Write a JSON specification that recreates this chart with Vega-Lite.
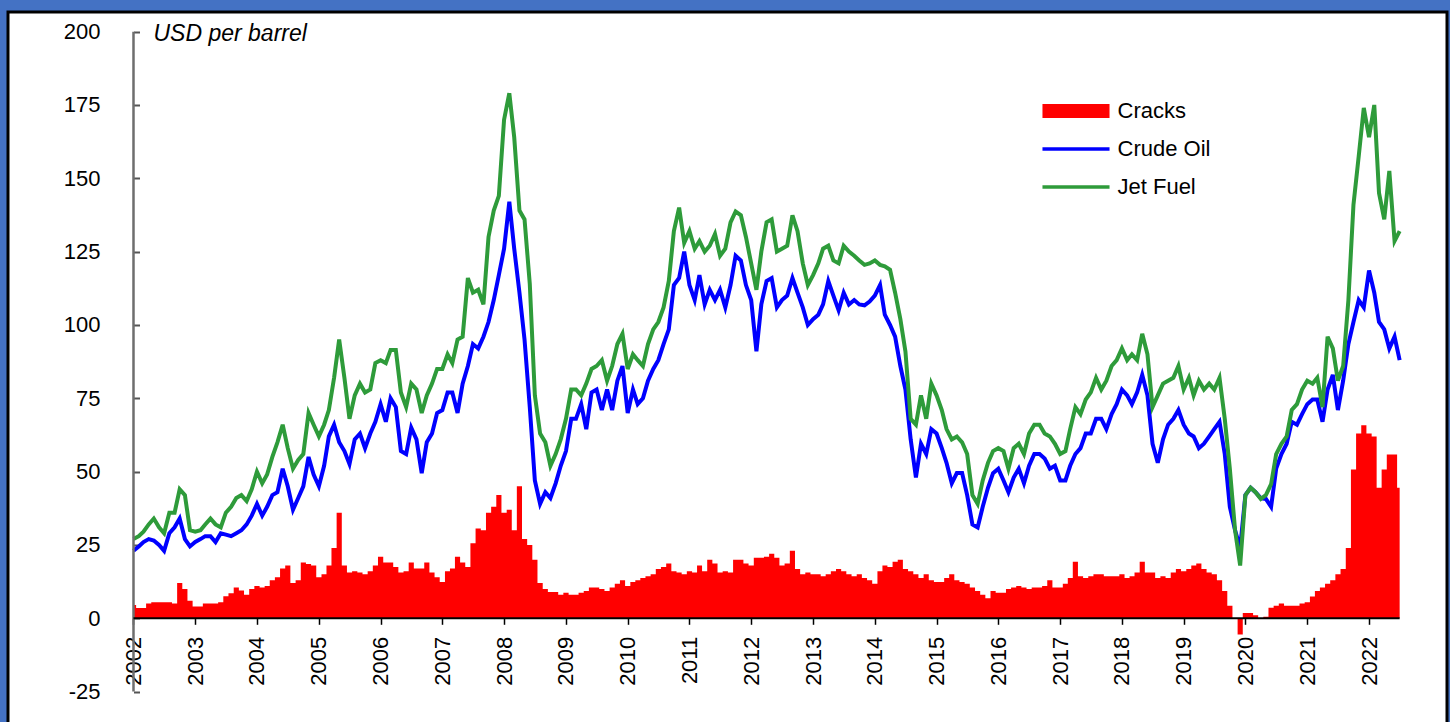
{
  "$schema": "https://vega.github.io/schema/vega-lite/v6.json",
  "width": 1439,
  "height": 712,
  "autosize": "none",
  "padding": {"left": 8, "top": 12, "right": 3, "bottom": 0},
  "background": "#4472C4",
  "config": {
    "view": {"stroke": "#000000", "strokeWidth": 3, "fill": "#ffffff"},
    "font": "Liberation Sans",
    "axis": {"grid": false}
  },
  "data": {"values": [
    {"date":"2002-01-01","crude":23,"jet":27,"cracks":4.5},
    {"date":"2002-02-01","crude":24.5,"jet":28,"cracks":3.5},
    {"date":"2002-03-01","crude":26,"jet":29.5,"cracks":3.5},
    {"date":"2002-04-01","crude":27,"jet":32,"cracks":5},
    {"date":"2002-05-01","crude":26.5,"jet":34,"cracks":5.5},
    {"date":"2002-06-01","crude":25,"jet":31,"cracks":5.5},
    {"date":"2002-07-01","crude":23,"jet":29,"cracks":5.5},
    {"date":"2002-08-01","crude":29,"jet":36,"cracks":5.5},
    {"date":"2002-09-01","crude":31,"jet":36,"cracks":5},
    {"date":"2002-10-01","crude":34,"jet":44,"cracks":12},
    {"date":"2002-11-01","crude":27,"jet":42,"cracks":10},
    {"date":"2002-12-01","crude":24.5,"jet":30,"cracks":6},
    {"date":"2003-01-01","crude":26,"jet":29.5,"cracks":4},
    {"date":"2003-02-01","crude":27,"jet":30,"cracks":4},
    {"date":"2003-03-01","crude":28,"jet":32,"cracks":5},
    {"date":"2003-04-01","crude":28,"jet":34,"cracks":5},
    {"date":"2003-05-01","crude":26,"jet":32,"cracks":5},
    {"date":"2003-06-01","crude":29,"jet":31,"cracks":5.5},
    {"date":"2003-07-01","crude":28.5,"jet":36,"cracks":7.5},
    {"date":"2003-08-01","crude":28,"jet":38,"cracks":8.5},
    {"date":"2003-09-01","crude":29,"jet":41,"cracks":10.5},
    {"date":"2003-10-01","crude":30,"jet":42,"cracks":9.5},
    {"date":"2003-11-01","crude":32,"jet":40,"cracks":8},
    {"date":"2003-12-01","crude":35,"jet":44,"cracks":10},
    {"date":"2004-01-01","crude":39,"jet":50,"cracks":11},
    {"date":"2004-02-01","crude":35,"jet":46,"cracks":10.5},
    {"date":"2004-03-01","crude":38,"jet":49,"cracks":11},
    {"date":"2004-04-01","crude":42,"jet":55,"cracks":13},
    {"date":"2004-05-01","crude":43,"jet":60,"cracks":14},
    {"date":"2004-06-01","crude":51,"jet":66,"cracks":17},
    {"date":"2004-07-01","crude":45,"jet":58,"cracks":18},
    {"date":"2004-08-01","crude":37,"jet":51,"cracks":12},
    {"date":"2004-09-01","crude":41,"jet":54,"cracks":13},
    {"date":"2004-10-01","crude":45,"jet":56,"cracks":19},
    {"date":"2004-11-01","crude":55,"jet":70,"cracks":18.5},
    {"date":"2004-12-01","crude":49,"jet":66,"cracks":18},
    {"date":"2005-01-01","crude":45,"jet":62,"cracks":14},
    {"date":"2005-02-01","crude":52,"jet":66,"cracks":15},
    {"date":"2005-03-01","crude":62,"jet":71,"cracks":18},
    {"date":"2005-04-01","crude":66,"jet":82,"cracks":24},
    {"date":"2005-05-01","crude":60,"jet":95,"cracks":36},
    {"date":"2005-06-01","crude":57,"jet":82,"cracks":18},
    {"date":"2005-07-01","crude":52.6,"jet":68,"cracks":15.6},
    {"date":"2005-08-01","crude":61,"jet":76,"cracks":16},
    {"date":"2005-09-01","crude":63,"jet":80,"cracks":15.6},
    {"date":"2005-10-01","crude":58,"jet":77,"cracks":15},
    {"date":"2005-11-01","crude":63,"jet":78,"cracks":16},
    {"date":"2005-12-01","crude":67,"jet":87,"cracks":18},
    {"date":"2006-01-01","crude":73,"jet":88,"cracks":21},
    {"date":"2006-02-01","crude":67,"jet":87,"cracks":19},
    {"date":"2006-03-01","crude":75,"jet":91.5,"cracks":19},
    {"date":"2006-04-01","crude":72,"jet":91.5,"cracks":17.5},
    {"date":"2006-05-01","crude":57,"jet":77,"cracks":15.6},
    {"date":"2006-06-01","crude":56,"jet":72,"cracks":16},
    {"date":"2006-07-01","crude":65,"jet":80,"cracks":19},
    {"date":"2006-08-01","crude":61,"jet":78,"cracks":17},
    {"date":"2006-09-01","crude":49.5,"jet":70,"cracks":17},
    {"date":"2006-10-01","crude":60,"jet":76,"cracks":19},
    {"date":"2006-11-01","crude":63,"jet":80,"cracks":15.6},
    {"date":"2006-12-01","crude":70,"jet":85,"cracks":14},
    {"date":"2007-01-01","crude":71,"jet":85,"cracks":12.4},
    {"date":"2007-02-01","crude":77,"jet":90,"cracks":16},
    {"date":"2007-03-01","crude":77,"jet":87,"cracks":17},
    {"date":"2007-04-01","crude":70,"jet":95,"cracks":21},
    {"date":"2007-05-01","crude":80,"jet":96,"cracks":19},
    {"date":"2007-06-01","crude":86,"jet":116,"cracks":17.5},
    {"date":"2007-07-01","crude":93.5,"jet":111,"cracks":25.6},
    {"date":"2007-08-01","crude":92,"jet":112,"cracks":30.6},
    {"date":"2007-09-01","crude":96,"jet":107,"cracks":30},
    {"date":"2007-10-01","crude":101,"jet":130,"cracks":36},
    {"date":"2007-11-01","crude":108.5,"jet":139,"cracks":38},
    {"date":"2007-12-01","crude":117,"jet":144,"cracks":42},
    {"date":"2008-01-01","crude":126,"jet":170,"cracks":36},
    {"date":"2008-02-01","crude":142,"jet":179,"cracks":37},
    {"date":"2008-03-01","crude":126,"jet":164,"cracks":30},
    {"date":"2008-04-01","crude":111,"jet":139,"cracks":45},
    {"date":"2008-05-01","crude":95,"jet":136,"cracks":27},
    {"date":"2008-06-01","crude":72,"jet":114,"cracks":25},
    {"date":"2008-07-01","crude":47,"jet":76,"cracks":20},
    {"date":"2008-08-01","crude":39,"jet":63,"cracks":12},
    {"date":"2008-09-01","crude":43,"jet":60,"cracks":10},
    {"date":"2008-10-01","crude":41,"jet":52,"cracks":9},
    {"date":"2008-11-01","crude":46,"jet":56,"cracks":9},
    {"date":"2008-12-01","crude":52,"jet":61,"cracks":8},
    {"date":"2009-01-01","crude":57,"jet":68,"cracks":8.7},
    {"date":"2009-02-01","crude":68,"jet":78,"cracks":8},
    {"date":"2009-03-01","crude":68,"jet":78,"cracks":8},
    {"date":"2009-04-01","crude":73,"jet":76,"cracks":8.7},
    {"date":"2009-05-01","crude":64.5,"jet":80,"cracks":9.3},
    {"date":"2009-06-01","crude":77,"jet":85,"cracks":10.5},
    {"date":"2009-07-01","crude":78,"jet":86,"cracks":10.5},
    {"date":"2009-08-01","crude":71,"jet":88,"cracks":10},
    {"date":"2009-09-01","crude":78,"jet":81,"cracks":9.3},
    {"date":"2009-10-01","crude":71,"jet":86,"cracks":10.5},
    {"date":"2009-11-01","crude":81,"jet":93.5,"cracks":11.8},
    {"date":"2009-12-01","crude":86,"jet":97,"cracks":13},
    {"date":"2010-01-01","crude":70,"jet":85,"cracks":11},
    {"date":"2010-02-01","crude":78,"jet":90,"cracks":12.4},
    {"date":"2010-03-01","crude":73,"jet":88,"cracks":13},
    {"date":"2010-04-01","crude":75,"jet":86,"cracks":13.7},
    {"date":"2010-05-01","crude":81,"jet":93.5,"cracks":14.3},
    {"date":"2010-06-01","crude":85,"jet":98.5,"cracks":15},
    {"date":"2010-07-01","crude":88,"jet":101,"cracks":16.8},
    {"date":"2010-08-01","crude":93.5,"jet":106,"cracks":17.5},
    {"date":"2010-09-01","crude":98.5,"jet":115,"cracks":18.7},
    {"date":"2010-10-01","crude":113.6,"jet":132,"cracks":16},
    {"date":"2010-11-01","crude":116,"jet":140,"cracks":15.6},
    {"date":"2010-12-01","crude":125,"jet":128,"cracks":15},
    {"date":"2011-01-01","crude":113.6,"jet":132,"cracks":16},
    {"date":"2011-02-01","crude":108.5,"jet":126,"cracks":15.6},
    {"date":"2011-03-01","crude":117,"jet":128.6,"cracks":18},
    {"date":"2011-04-01","crude":107,"jet":125,"cracks":16},
    {"date":"2011-05-01","crude":112,"jet":127,"cracks":20},
    {"date":"2011-06-01","crude":108.5,"jet":131,"cracks":18.7},
    {"date":"2011-07-01","crude":112,"jet":123.6,"cracks":15.6},
    {"date":"2011-08-01","crude":106,"jet":126,"cracks":16},
    {"date":"2011-09-01","crude":113.6,"jet":135,"cracks":15.6},
    {"date":"2011-10-01","crude":123.6,"jet":138.7,"cracks":20},
    {"date":"2011-11-01","crude":122,"jet":137.4,"cracks":20},
    {"date":"2011-12-01","crude":113.6,"jet":130,"cracks":18.7},
    {"date":"2012-01-01","crude":108.5,"jet":121,"cracks":18},
    {"date":"2012-02-01","crude":91,"jet":112,"cracks":20.6},
    {"date":"2012-03-01","crude":107,"jet":125,"cracks":20.6},
    {"date":"2012-04-01","crude":115,"jet":135,"cracks":21},
    {"date":"2012-05-01","crude":116,"jet":136,"cracks":22},
    {"date":"2012-06-01","crude":106,"jet":125,"cracks":20.6},
    {"date":"2012-07-01","crude":108.5,"jet":126,"cracks":18},
    {"date":"2012-08-01","crude":110,"jet":127,"cracks":18.7},
    {"date":"2012-09-01","crude":116,"jet":137.4,"cracks":23},
    {"date":"2012-10-01","crude":111,"jet":132,"cracks":16.8},
    {"date":"2012-11-01","crude":106,"jet":121,"cracks":15},
    {"date":"2012-12-01","crude":100,"jet":113.6,"cracks":15.6},
    {"date":"2013-01-01","crude":102,"jet":117,"cracks":15},
    {"date":"2013-02-01","crude":103.5,"jet":121,"cracks":15},
    {"date":"2013-03-01","crude":107,"jet":126,"cracks":14.3},
    {"date":"2013-04-01","crude":115,"jet":127,"cracks":15},
    {"date":"2013-05-01","crude":110,"jet":122,"cracks":16},
    {"date":"2013-06-01","crude":105,"jet":121,"cracks":16.8},
    {"date":"2013-07-01","crude":111,"jet":127,"cracks":16},
    {"date":"2013-08-01","crude":107,"jet":125,"cracks":15},
    {"date":"2013-09-01","crude":108.5,"jet":123.6,"cracks":14.3},
    {"date":"2013-10-01","crude":107,"jet":122,"cracks":15},
    {"date":"2013-11-01","crude":106.7,"jet":120.5,"cracks":13.7},
    {"date":"2013-12-01","crude":108,"jet":121,"cracks":13},
    {"date":"2014-01-01","crude":110,"jet":122,"cracks":11.8},
    {"date":"2014-02-01","crude":113.6,"jet":120.5,"cracks":16},
    {"date":"2014-03-01","crude":103.5,"jet":120,"cracks":18},
    {"date":"2014-04-01","crude":100,"jet":118.8,"cracks":17.5},
    {"date":"2014-05-01","crude":96,"jet":111,"cracks":19.3},
    {"date":"2014-06-01","crude":86,"jet":102,"cracks":20},
    {"date":"2014-07-01","crude":78,"jet":91,"cracks":16.8},
    {"date":"2014-08-01","crude":61,"jet":68,"cracks":16},
    {"date":"2014-09-01","crude":48,"jet":66,"cracks":15},
    {"date":"2014-10-01","crude":59.5,"jet":76,"cracks":13.7},
    {"date":"2014-11-01","crude":56,"jet":68,"cracks":15},
    {"date":"2014-12-01","crude":64.5,"jet":80,"cracks":13},
    {"date":"2015-01-01","crude":63,"jet":76,"cracks":12.4},
    {"date":"2015-02-01","crude":58,"jet":71,"cracks":12.4},
    {"date":"2015-03-01","crude":53,"jet":64.5,"cracks":13.7},
    {"date":"2015-04-01","crude":46,"jet":61,"cracks":15},
    {"date":"2015-05-01","crude":49.5,"jet":62,"cracks":13},
    {"date":"2015-06-01","crude":49.5,"jet":60,"cracks":12.4},
    {"date":"2015-07-01","crude":42,"jet":56,"cracks":11.8},
    {"date":"2015-08-01","crude":32,"jet":42,"cracks":10.5},
    {"date":"2015-09-01","crude":31,"jet":39,"cracks":9.3},
    {"date":"2015-10-01","crude":38,"jet":47,"cracks":8},
    {"date":"2015-11-01","crude":44.5,"jet":53,"cracks":6.8},
    {"date":"2015-12-01","crude":49.5,"jet":57,"cracks":9.3},
    {"date":"2016-01-01","crude":51,"jet":58,"cracks":8.7},
    {"date":"2016-02-01","crude":47,"jet":57,"cracks":8.7},
    {"date":"2016-03-01","crude":43,"jet":51,"cracks":10},
    {"date":"2016-04-01","crude":48,"jet":58,"cracks":10.5},
    {"date":"2016-05-01","crude":51,"jet":59.5,"cracks":11},
    {"date":"2016-06-01","crude":46,"jet":56,"cracks":10.5},
    {"date":"2016-07-01","crude":52,"jet":63,"cracks":10},
    {"date":"2016-08-01","crude":56,"jet":66,"cracks":10.5},
    {"date":"2016-09-01","crude":56,"jet":66,"cracks":10.5},
    {"date":"2016-10-01","crude":54.5,"jet":63,"cracks":11},
    {"date":"2016-11-01","crude":51,"jet":62,"cracks":13},
    {"date":"2016-12-01","crude":52,"jet":59.5,"cracks":10.5},
    {"date":"2017-01-01","crude":47,"jet":56,"cracks":10.5},
    {"date":"2017-02-01","crude":47,"jet":57,"cracks":11.8},
    {"date":"2017-03-01","crude":52,"jet":64.5,"cracks":13.7},
    {"date":"2017-04-01","crude":56,"jet":72,"cracks":19.3},
    {"date":"2017-05-01","crude":58,"jet":69.6,"cracks":14.3},
    {"date":"2017-06-01","crude":63,"jet":74.6,"cracks":13.7},
    {"date":"2017-07-01","crude":63,"jet":77,"cracks":14.3},
    {"date":"2017-08-01","crude":68,"jet":82,"cracks":15},
    {"date":"2017-09-01","crude":68,"jet":78,"cracks":15},
    {"date":"2017-10-01","crude":64.5,"jet":81,"cracks":14.3},
    {"date":"2017-11-01","crude":69.6,"jet":86,"cracks":14.3},
    {"date":"2017-12-01","crude":73,"jet":88,"cracks":14.3},
    {"date":"2018-01-01","crude":78,"jet":92,"cracks":15},
    {"date":"2018-02-01","crude":76,"jet":88,"cracks":13.7},
    {"date":"2018-03-01","crude":73,"jet":90,"cracks":14.3},
    {"date":"2018-04-01","crude":77,"jet":88,"cracks":15.6},
    {"date":"2018-05-01","crude":83,"jet":97,"cracks":19.3},
    {"date":"2018-06-01","crude":76,"jet":90,"cracks":15.6},
    {"date":"2018-07-01","crude":59.5,"jet":72,"cracks":15.6},
    {"date":"2018-08-01","crude":53,"jet":76,"cracks":13.7},
    {"date":"2018-09-01","crude":61,"jet":80,"cracks":14.3},
    {"date":"2018-10-01","crude":66,"jet":81,"cracks":13.7},
    {"date":"2018-11-01","crude":68,"jet":82,"cracks":15.6},
    {"date":"2018-12-01","crude":71,"jet":86,"cracks":16.8},
    {"date":"2019-01-01","crude":66,"jet":78,"cracks":16},
    {"date":"2019-02-01","crude":63,"jet":82,"cracks":16.8},
    {"date":"2019-03-01","crude":62,"jet":76,"cracks":18},
    {"date":"2019-04-01","crude":58,"jet":81,"cracks":18.7},
    {"date":"2019-05-01","crude":59.5,"jet":78,"cracks":16.8},
    {"date":"2019-06-01","crude":62,"jet":80,"cracks":15.6},
    {"date":"2019-07-01","crude":64.5,"jet":78,"cracks":15},
    {"date":"2019-08-01","crude":67,"jet":82,"cracks":13},
    {"date":"2019-09-01","crude":56,"jet":68,"cracks":9.3},
    {"date":"2019-10-01","crude":38,"jet":51,"cracks":4.3},
    {"date":"2019-11-01","crude":30,"jet":30,"cracks":0},
    {"date":"2019-12-01","crude":24,"jet":18,"cracks":-5.5},
    {"date":"2020-01-01","crude":42,"jet":42,"cracks":1.8},
    {"date":"2020-02-01","crude":44.5,"jet":44.5,"cracks":1.8},
    {"date":"2020-03-01","crude":43,"jet":43,"cracks":1},
    {"date":"2020-04-01","crude":41,"jet":40.7,"cracks":0},
    {"date":"2020-05-01","crude":40.7,"jet":42,"cracks":0.5},
    {"date":"2020-06-01","crude":38,"jet":45.7,"cracks":3.6},
    {"date":"2020-07-01","crude":51,"jet":56,"cracks":4.3},
    {"date":"2020-08-01","crude":56,"jet":59.5,"cracks":5},
    {"date":"2020-09-01","crude":59.5,"jet":62,"cracks":4.3},
    {"date":"2020-10-01","crude":67,"jet":71,"cracks":4.3},
    {"date":"2020-11-01","crude":66,"jet":73,"cracks":4.3},
    {"date":"2020-12-01","crude":69.6,"jet":78,"cracks":5},
    {"date":"2021-01-01","crude":73,"jet":81,"cracks":5.5},
    {"date":"2021-02-01","crude":74.6,"jet":80,"cracks":7.4},
    {"date":"2021-03-01","crude":74.6,"jet":82,"cracks":9.3},
    {"date":"2021-04-01","crude":67,"jet":72,"cracks":10.5},
    {"date":"2021-05-01","crude":78,"jet":96,"cracks":11.8},
    {"date":"2021-06-01","crude":83,"jet":92,"cracks":13},
    {"date":"2021-07-01","crude":71,"jet":81,"cracks":15},
    {"date":"2021-08-01","crude":81,"jet":86,"cracks":16.8},
    {"date":"2021-09-01","crude":93.5,"jet":108.5,"cracks":24},
    {"date":"2021-10-01","crude":101,"jet":141,"cracks":50.7},
    {"date":"2021-11-01","crude":108.5,"jet":157.5,"cracks":63},
    {"date":"2021-12-01","crude":106,"jet":174,"cracks":65.8},
    {"date":"2022-01-01","crude":118.6,"jet":164,"cracks":63},
    {"date":"2022-02-01","crude":111,"jet":175,"cracks":62},
    {"date":"2022-03-01","crude":101,"jet":145,"cracks":44.5},
    {"date":"2022-04-01","crude":98.5,"jet":136,"cracks":50.7},
    {"date":"2022-05-01","crude":92,"jet":152.5,"cracks":55.8},
    {"date":"2022-06-01","crude":96,"jet":128.6,"cracks":55.8},
    {"date":"2022-07-01","crude":88,"jet":132,"cracks":44.5}
  ]},
  "transform": [{"fold": ["cracks", "crude", "jet"], "as": ["series", "value"]}],
  "layer": [
    {
      "transform": [{"filter": "datum.series === 'cracks'"}],
      "mark": {"type": "area", "interpolate": "step", "opacity": 1},
      "encoding": {
        "x": {
          "field": "date", "type": "temporal",
          "scale": {"type": "utc", "domain": [{"year": 1999, "month": 12, "date": 21, "utc": true}, {"year": 2023, "month": 4, "date": 7, "utc": true}]},
          "axis": {
            "orient": "bottom", "offset": -105.7, "title": null, "domain": false,
            "values": [{"year":2002,"utc":true},{"year":2003,"utc":true},{"year":2004,"utc":true},{"year":2005,"utc":true},{"year":2006,"utc":true},{"year":2007,"utc":true},{"year":2008,"utc":true},{"year":2009,"utc":true},{"year":2010,"utc":true},{"year":2011,"utc":true},{"year":2012,"utc":true},{"year":2013,"utc":true},{"year":2014,"utc":true},{"year":2015,"utc":true},{"year":2016,"utc":true},{"year":2017,"utc":true},{"year":2018,"utc":true},{"year":2019,"utc":true},{"year":2020,"utc":true},{"year":2021,"utc":true},{"year":2022,"utc":true}],
            "format": "%Y", "labelAngle": -90, "labelAlign": "right", "labelBaseline": "middle",
            "labelFontSize": 22, "labelColor": "#000000", "labelPadding": 12, "labelFlush": false, "labelOverlap": false, "labelBound": false,
            "tickSize": 6, "tickColor": "#000000", "tickWidth": 1.5
          }
        },
        "y": {
          "field": "value", "type": "quantitative",
          "scale": {"domain": [-36.04, 206.7], "nice": false, "zero": false},
          "axis": {
            "orient": "left", "offset": -125.5, "domain": false,
            "values": [-25, 0, 25, 50, 75, 100, 125, 150, 175, 200],
            "labelExpr": "'' + datum.value",
            "labelFontSize": 22, "labelColor": "#000000", "labelPadding": 39.5, "labelOverlap": false, "labelFlush": false,
            "tickSize": -6, "tickColor": "#555555", "tickWidth": 2,
            "title": "USD per barrel", "titleAngle": 0, "titleX": 19.5, "titleY": 21, "titleAlign": "left", "titleBaseline": "middle",
            "titleFontStyle": "italic", "titleFontWeight": "normal", "titleFontSize": 23, "titleColor": "#000000"
          }
        },
        "fill": {
          "field": "series", "type": "nominal",
          "scale": {"domain": ["cracks"], "range": ["#FF0000"]},
          "legend": {
            "orient": "none", "legendX": 1057, "legendY": 88, "title": null, "padding": 0,
            "labelFontSize": 22, "labelColor": "#000000", "labelOffset": 30.5, "symbolSize": 196,
            "symbolType": "M-4.79,-1H4.79V1H-4.79Z", "symbolStrokeWidth": 0, "symbolOpacity": 1,
            "labelExpr": "'Cracks'"
          }
        }
      }
    },
    {
      "transform": [{"filter": "datum.series !== 'cracks'"}],
      "mark": {"type": "line", "strokeWidth": 4, "interpolate": "linear"},
      "encoding": {
        "x": {"field": "date", "type": "temporal"},
        "y": {"field": "value", "type": "quantitative"},
        "stroke": {
          "field": "series", "type": "nominal",
          "scale": {"domain": ["crude", "jet"], "range": ["#0000FF", "#2E9B3A"]},
          "legend": {
            "orient": "none", "legendX": 1057, "legendY": 126, "title": null, "padding": 0,
            "labelFontSize": 22, "labelColor": "#000000", "labelOffset": 30.5, "rowPadding": 16, "symbolSize": 196,
            "symbolType": "M-4.79,0H4.79", "symbolStrokeWidth": 3.5, "symbolOpacity": 1,
            "labelExpr": "datum.label === 'crude' ? 'Crude Oil' : 'Jet Fuel'"
          }
        }
      }
    },
    {
      "data": {"values": [{}]},
      "mark": {"type": "rule", "color": "#6e6e6e", "strokeWidth": 2.5},
      "encoding": {
        "x": {"datum": {"year": 2002, "month": 1, "date": 1, "utc": true}, "type": "temporal"},
        "y": {"datum": -25, "type": "quantitative"},
        "y2": {"datum": 200}
      }
    },
    {
      "data": {"values": [{}]},
      "mark": {"type": "rule", "color": "#000000", "strokeWidth": 2},
      "encoding": {
        "x": {"datum": {"year": 2002, "month": 1, "date": 1, "utc": true}, "type": "temporal"},
        "x2": {"datum": {"year": 2022, "month": 7, "date": 1, "utc": true}},
        "y": {"datum": 0, "type": "quantitative"}
      }
    }
  ]
}
